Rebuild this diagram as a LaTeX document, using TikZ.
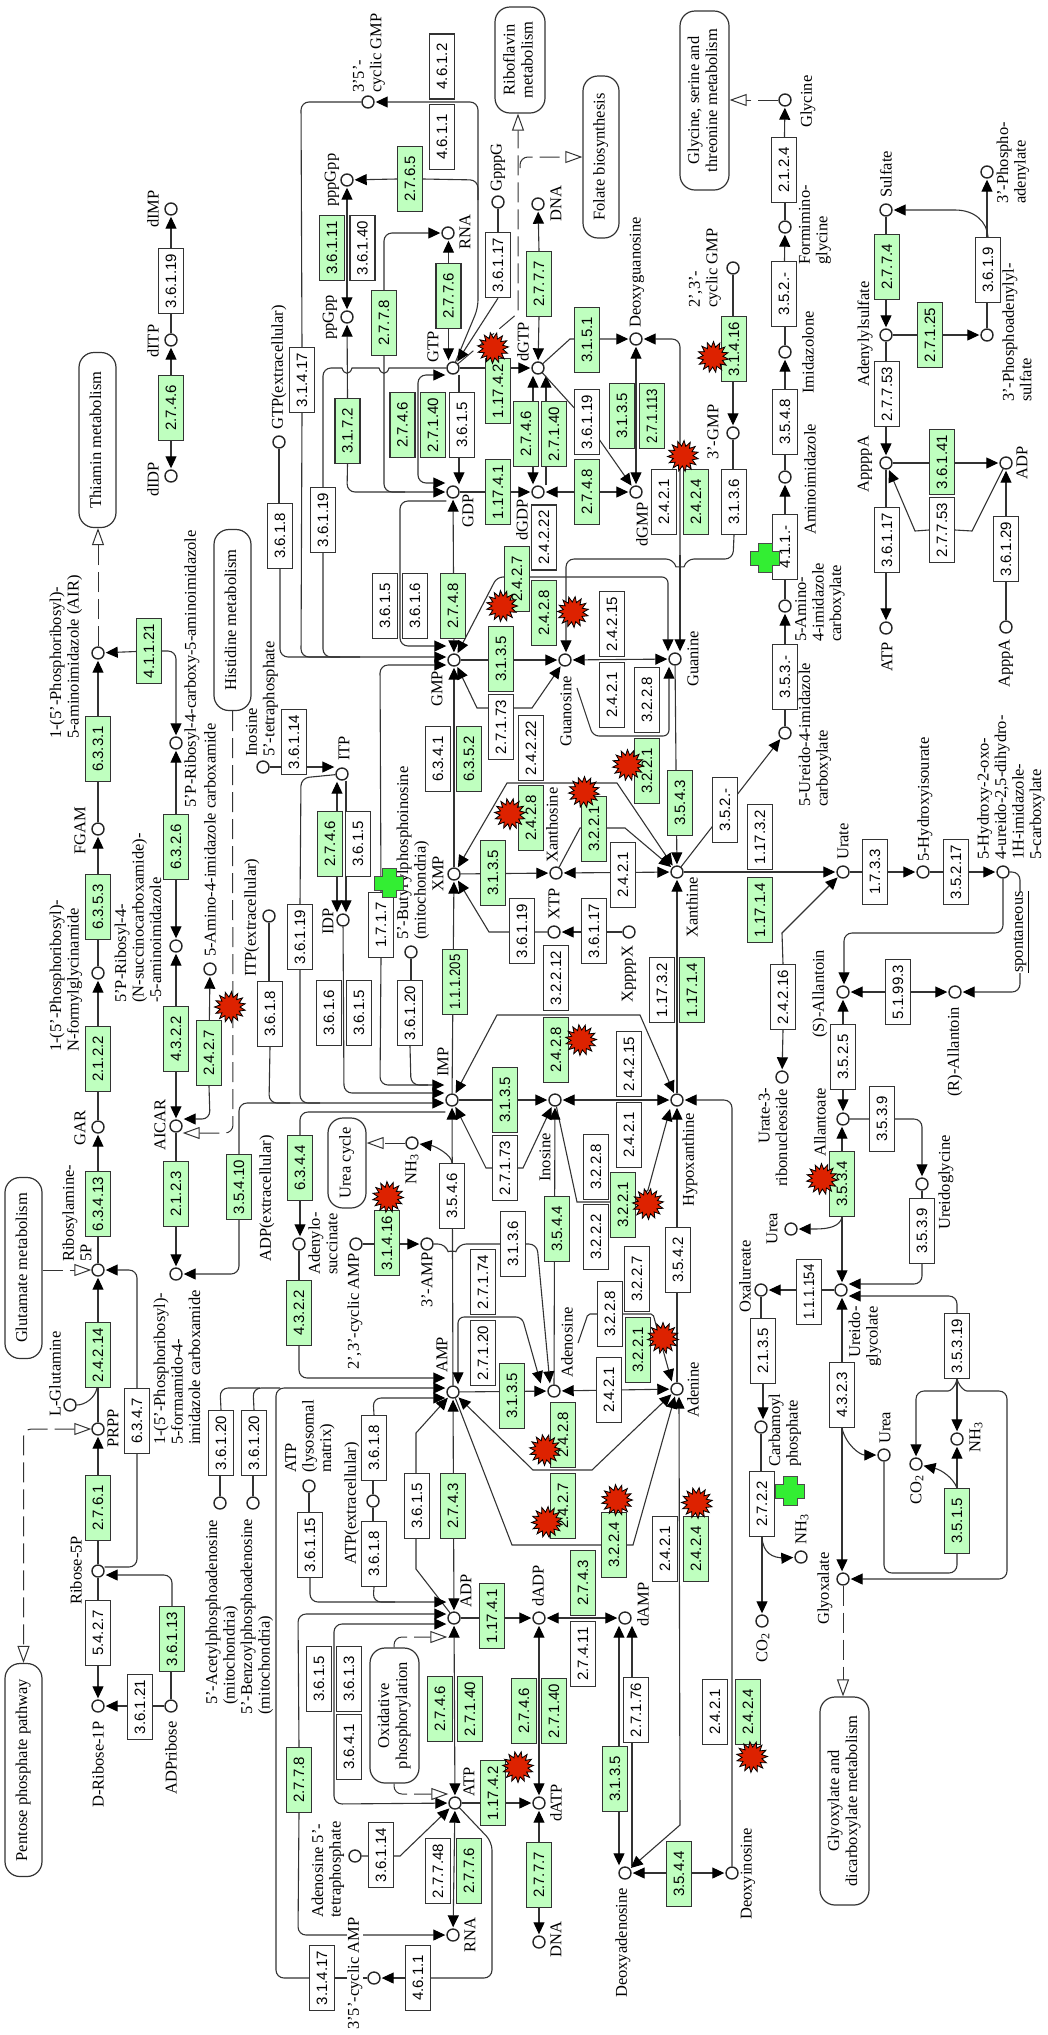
\documentclass[tikz,border=0pt]{standalone}
\usepackage{graphicx}
\usepackage{fontspec}
\setmainfont{Liberation Serif}
\newfontfamily\ecfont{Liberation Sans}
\usetikzlibrary{arrows.meta,shapes.geometric}
\pgfdeclarelayer{bg}
\pgfsetlayers{bg,main}
\definecolor{lc}{gray}{0.2}
\definecolor{ecgreen}{HTML}{BFFFBF}
\definecolor{burstred}{HTML}{DD2200}
\definecolor{crossgreen}{HTML}{33EE33}
\tikzset{
  ecw/.style={draw=lc,line width=1.3pt,fill=white,minimum width=25pt,minimum height=65pt,inner sep=0pt,font=\ecfont\fontsize{15}{15}\selectfont},
  ecg/.style={ecw,fill=ecgreen},
  cpd/.style={circle,draw=black!85,line width=1.4pt,fill=white,minimum size=12pt,inner sep=0pt},
  lbl/.style={rotate=90,anchor=west,align=left,inner sep=0pt,font=\fontsize{16.5}{17.5}\selectfont},
  pwy/.style={draw=lc,line width=1.2pt,fill=white,rounded corners=15pt,inner sep=0pt,align=center,font=\fontsize{16.5}{18}\selectfont},
  ln/.style={line width=1.1pt,color=lc},
  ar/.style={ln,-{Triangle[length=12pt,width=11pt,color=black]},shorten >=1pt},
  ab/.style={ln,{Triangle[length=12pt,width=11pt,color=black]}-{Triangle[length=12pt,width=11pt,color=black]},shorten >=1pt,shorten <=1pt},
  dsh/.style={line width=1pt,color=lc,dash pattern=on 20pt off 7pt,-{Triangle[length=17pt,width=12pt,fill=white]}},
  dshb/.style={line width=1pt,color=lc,dash pattern=on 20pt off 7pt,{Triangle[length=17pt,width=12pt,fill=white]}-{Triangle[length=17pt,width=12pt,fill=white]}},
  rc/.style={rounded corners=8pt},
  burst/.style={star,star points=15,star point ratio=1.55,minimum size=31pt,inner sep=0pt,fill=burstred,draw=black,line width=0.8pt},
}
\newcounter{lc}\newcounter{bc}
\newcommand\wb[4]{\node[ecw] (#1) at (#2,#3) {\rotatebox{90}{#4}};}
\newcommand\gb[4]{\node[ecg] (#1) at (#2,#3) {\rotatebox{90}{#4}};}
\newcommand\cp[3]{\node[cpd] (#1) at (#2,#3) {};}
\newcommand\lab[3]{\stepcounter{lc}\node[lbl] (lab\arabic{lc}) at (#1,#2) {#3};}
\newcommand\pw[6]{\node[pwy,minimum width=#4pt,minimum height=#5pt] (#1) at (#2,#3) {\rotatebox{90}{\begin{tabular}{@{}c@{}}#6\end{tabular}}};}
\newcommand\bst[2]{\stepcounter{bc}\node[burst,shape border rotate=\arabic{bc}0] (bst\arabic{bc}) at (#1,#2) {};}
\newcommand\crs[2]{\filldraw[fill=crossgreen,draw=black!70,line width=0.8pt,shift={(#1,#2)}] (-7,-14.5)--(7,-14.5)--(7,-7)--(14.5,-7)--(14.5,7)--(7,7)--(7,14.5)--(-7,14.5)--(-7,7)--(-14.5,7)--(-14.5,-7)--(-7,-7)--cycle;}
\newcommand\ssb[1]{\raisebox{-2pt}{\fontsize{12}{12}\selectfont #1}}
\newcommand\nrw[1]{\scalebox{0.88}[1]{#1}}
\begin{document}
\begin{tikzpicture}[x=1pt,y=-1pt]
\useasboundingbox (0,0) rectangle (1047,2035);
% pathway boxes
\pw{thi}{97.5}{440}{37}{175}{Thiamin metabolism}
\pw{his}{232.5}{620}{37}{181}{Histidine metabolism}
\pw{glu}{23.5}{1268}{37}{181}{Glutamate metabolism}
\pw{pen}{23.5}{1770}{37}{213}{Pentose phosphate pathway}
\pw{rib}{520}{60}{50}{106}{Riboflavin\\metabolism}
\pw{fol}{601}{157}{36}{162}{Folate biosynthesis}
\pw{gs}{704.5}{100.5}{49}{179}{Glycine, serine and\\threonine metabolism}
\pw{urea}{347}{1163}{38}{90}{Urea cycle}
\pw{oxp}{394.5}{1715.5}{49}{135}{Oxidative\\phosphorylation}
\pw{gd}{844.5}{1801}{49}{208}{Glyoxylate and\\dicarboxylate metabolism}
% enzyme boxes
\wb{a1}{171}{281}{3.6.1.19}
\gb{a2}{171}{408}{2.7.4.6}
\wb{a3}{302}{380}{3.1.4.17}
\gb{a4}{332}{248}{3.6.1.11}
\wb{a5}{362.5}{248}{3.6.1.40}
\gb{a6}{347.5}{431}{3.1.7.2}
\wb{a7}{323}{520}{3.6.1.19}
\wb{a8}{280}{536}{3.6.1.8}
\wb{a9}{442}{137}{4.6.1.1}
\wb{a10}{442}{66.5}{4.6.1.2}
\gb{a11}{410}{179}{2.7.6.5}
\gb{a12}{384}{323}{2.7.7.8}
\gb{a13}{448.5}{296}{2.7.7.6}
\wb{a14}{498}{265}{3.6.1.17}
\gb{a15}{539}{284}{2.7.7.7}
\gb{a16}{498}{391}{1.17.4.2}
\wb{a17}{462}{425}{3.6.1.5}
\gb{a18}{402.5}{425}{2.7.4.6}
\gb{a19}{433}{425}{2.7.1.40}
\gb{a20}{587}{340}{3.1.5.1}
\wb{a21}{587}{422}{3.6.1.19}
\gb{a22}{622}{416}{3.1.3.5}
\gb{a23}{652}{416}{\nrw{2.7.1.113}}
\gb{a24}{526}{434}{2.7.4.6}
\gb{a25}{554}{434}{2.7.1.40}
\gb{a26}{498}{492}{1.17.4.1}
\gb{a27}{587}{492}{2.7.4.8}
\gb{a28}{453}{606}{2.7.4.8}
\wb{a29}{385}{606}{3.6.1.5}
\wb{a30}{415}{606}{3.6.1.6}
\gb{a31}{501}{659}{3.1.3.5}
\wb{a32}{612}{624}{2.4.2.15}
\wb{a33}{612}{695}{2.4.2.1}
\wb{a34}{647}{700}{3.2.2.8}
\wb{a35}{501}{727}{2.7.1.73}
\wb{a36}{531}{748}{2.4.2.22}
\wb{a37}{438}{759}{6.3.4.1}
\gb{a38}{469}{759}{6.3.5.2}
\gb{a39}{493}{873}{3.1.3.5}
\gb{a40}{531}{818}{2.4.2.8}
\gb{a41}{647}{771}{3.2.2.1}
\gb{a42}{594}{829}{3.2.2.1}
\wb{a43}{623}{875}{2.4.2.1}
\gb{a44}{680}{803}{3.5.4.3}
\wb{a45}{522}{931}{3.6.1.19}
\wb{a46}{594}{931}{3.6.1.17}
\wb{a47}{556}{978}{3.2.2.12}
\wb{a48}{662}{990}{1.17.3.2}
\gb{a49}{692}{990}{1.17.1.4}
\gb{a50}{455}{982}{\nrw{1.1.1.205}}
\wb{a51}{410}{1013}{3.6.1.20}
\wb{a52}{381}{925}{1.7.1.7}
\wb{a53}{358}{844}{3.6.1.5}
\wb{a54}{359}{1013}{3.6.1.5}
\wb{a55}{300}{937}{3.6.1.19}
\wb{a56}{329}{1013}{3.6.1.6}
\wb{a57}{270}{1014}{3.6.1.8}
\wb{a58}{294}{742}{3.6.1.14}
\gb{a59}{330}{844}{2.7.4.6}
\gb{b1}{149}{651}{4.1.1.21}
\gb{b2}{98}{749}{6.3.3.1}
\gb{b3}{98}{907}{6.3.5.3}
\gb{b4}{98}{1059}{2.1.2.2}
\gb{b5}{176}{847}{6.3.2.6}
\gb{b6}{176}{1039}{4.3.2.2}
\gb{b7}{209}{1053}{2.4.2.7}
\gb{b8}{239}{1187}{3.5.4.10}
\gb{b9}{176}{1194}{2.1.2.3}
\gb{b10}{300}{1168}{6.3.4.4}
\gb{b11}{299}{1313}{4.3.2.2}
\gb{b12}{505}{1100}{3.1.3.5}
\wb{b13}{505}{1168}{2.7.1.73}
\gb{b14}{556}{1050}{2.4.2.8}
\wb{b15}{629}{1064}{2.4.2.15}
\wb{b16}{629}{1135}{2.4.2.1}
\wb{b17}{596}{1167}{3.2.2.8}
\wb{b18}{596}{1237}{3.2.2.2}
\gb{b19}{623}{1205}{3.2.2.1}
\gb{b20}{557}{1229}{3.5.4.4}
\wb{b21}{678}{1260}{3.5.4.2}
\gb{b22}{387}{1243}{3.1.4.16}
\wb{b23}{513}{1244}{3.1.3.6}
\wb{b24}{452}{1196}{3.5.4.6}
\wb{b25}{483}{1282}{2.7.1.74}
\wb{b26}{483}{1353}{2.7.1.20}
\gb{b27}{512}{1396}{3.1.3.5}
\wb{b28}{609}{1390}{2.4.2.1}
\wb{b29}{610}{1314}{3.2.2.8}
\wb{b30}{637}{1279}{3.2.2.7}
\gb{b31}{638}{1350}{3.2.2.1}
\gb{b32}{563}{1435}{2.4.2.8}
\gb{b33}{563}{1506}{2.4.2.7}
\gb{b34}{614}{1545}{3.2.2.4}
\wb{b35}{665}{1549}{2.4.2.1}
\gb{b36}{696}{1549}{2.4.2.4}
\gb{b37}{453}{1506}{2.7.4.3}
\wb{b38}{417}{1506}{3.6.1.5}
\wb{b39}{374}{1448}{3.6.1.8}
\wb{b40}{374}{1554}{3.6.1.8}
\wb{b41}{310}{1545}{3.6.1.15}
\wb{b42}{221}{1443}{3.6.1.20}
\wb{b43}{254}{1443}{3.6.1.20}
\gb{b44}{98}{1204}{6.3.4.13}
\gb{b45}{98}{1355}{2.4.2.14}
\wb{b46}{137}{1421}{6.3.4.7}
\gb{b47}{98}{1508}{2.7.6.1}
\wb{b48}{98}{1633}{5.4.2.7}
\gb{b49}{172}{1639}{3.6.1.13}
\wb{b50}{140}{1707}{3.6.1.21}
\gb{b51}{299}{1780}{2.7.7.8}
\wb{b52}{319}{1679}{3.6.1.5}
\wb{b53}{349}{1679}{3.6.1.3}
\wb{b54}{349}{1747}{3.6.4.1}
\gb{b55}{440}{1709}{2.7.4.6}
\gb{b56}{470}{1709}{2.7.1.40}
\gb{b57}{492}{1616}{1.17.4.1}
\gb{b58}{583}{1583}{2.7.4.3}
\wb{b59}{583}{1654}{2.7.4.11}
\gb{b60}{493}{1793}{1.17.4.2}
\gb{b61}{524}{1711}{2.7.4.6}
\gb{b62}{554}{1711}{2.7.1.40}
\gb{b63}{539}{1875}{2.7.7.7}
\gb{b64}{615}{1779}{3.1.3.5}
\wb{b65}{636}{1710}{2.7.1.76}
\wb{b66}{381}{1855}{3.6.1.14}
\wb{b67}{438}{1871}{2.7.7.48}
\gb{b68}{469}{1871}{2.7.7.6}
\wb{b69}{418}{1978}{4.6.1.1}
\wb{b70}{322}{1978}{3.1.4.17}
\gb{b71}{679}{1874}{3.5.4.4}
\wb{b72}{715}{1712}{2.4.2.1}
\gb{b73}{748}{1712}{2.4.2.4}
\wb{c1}{784}{170}{2.1.2.4}
\wb{c2}{784}{294}{3.5.2.-}
\wb{c3}{785}{422}{3.5.4.8}
\wb{c4}{785}{547}{4.1.1.-}
\wb{c5}{785}{677}{3.5.3.-}
\wb{c6}{725}{810}{3.5.2.-}
\gb{c7}{734}{349}{3.1.4.16}
\wb{c8}{734}{502}{3.1.3.6}
\gb{c9}{887}{267}{2.7.7.4}
\gb{c10}{930}{335}{2.7.1.25}
\wb{c11}{988}{270}{3.6.1.9}
\wb{c12}{887}{394}{2.7.7.53}
\gb{c13}{942}{462}{3.6.1.41}
\wb{c14}{887}{540}{3.6.1.17}
\wb{c15}{942}{530}{2.7.7.53}
\wb{c16}{1006}{549}{3.6.1.29}
\wb{c17}{760}{837}{1.17.3.2}
\gb{c18}{760}{910}{1.17.1.4}
\wb{c19}{783}{997}{2.4.2.16}
\wb{c20}{875}{872}{1.7.3.3}
\wb{c21}{956}{872}{3.5.2.17}
\wb{c22}{898}{992}{5.1.99.3}
\wb{c23}{843}{1057}{3.5.2.5}
\wb{c24}{882}{1119}{3.5.3.9}
\gb{c25}{842}{1184}{3.5.3.4}
\wb{c26}{922}{1231}{3.5.3.9}
\wb{c27}{809}{1292}{\nrw{1.1.1.154}}
\wb{c28}{763}{1351}{2.1.3.5}
\wb{c29}{957}{1346}{3.5.3.19}
\wb{c30}{842}{1395}{4.3.2.3}
\wb{c31}{762}{1504}{2.7.2.2}
\gb{c32}{957}{1521}{3.5.1.5}
\wb{d1}{664}{502}{2.4.2.1}
\gb{d2}{696}{502}{2.4.2.4}
\gb{d3}{517}{579}{2.4.2.7}
\gb{d4}{544}{613}{2.4.2.8}
\wb{d5}{544}{537.5}{2.4.2.22}
% compounds
\cp{dIMP}{171}{209}\cp{dITP}{171}{340}\cp{dIDP}{171}{476}\cp{GTPx}{279}{442}
\cp{pppGpp}{347}{180}\cp{ppGpp}{347}{317}\cp{cGMPa}{368}{102}\cp{RNAg}{448}{233}
\cp{GpppG}{498}{202}\cp{DNAg}{538}{204}\cp{GTP}{453}{368}\cp{dGTP}{538}{368}
\cp{dG}{636}{339}\cp{GDP}{453}{492}\cp{dGDP}{538}{492}\cp{dGMP}{636}{492}
\cp{GMP}{454}{660}\cp{Guo}{565}{660}\cp{Gua}{675}{659}\cp{XMP}{454}{874}
\cp{Xao}{556}{873}\cp{Xan}{677}{872}\cp{XTP}{554}{932}\cp{XppppX}{629}{932}
\cp{IMP}{452}{1100}\cp{Ino}{555}{1100}\cp{Hyp}{677}{1100}\cp{AIR}{98}{653}
\cp{CAIR}{176}{743}\cp{FGAM}{98}{829}\cp{FGAR}{98}{973}\cp{SAICAR}{176}{946}
\cp{AICARb}{210}{969}\cp{AICAR}{176}{1126}\cp{GAR}{98}{1127}\cp{Ribam}{98}{1270}
\cp{FAICAR}{176}{1274}\cp{ITPx}{269}{916}\cp{Itet}{263}{767}\cp{ITP}{342}{774}
\cp{IDP}{343}{920}\cp{BuI}{411}{952}\cp{NHu}{412}{1143}\cp{Adsu}{299}{1244}
\cp{cAMPb}{356}{1244}\cp{Athree}{427}{1244}\cp{AMP}{453}{1392}\cp{Ado}{554}{1391}
\cp{Ade}{677}{1389}\cp{LGln}{70}{1405}\cp{PRPP}{98}{1429}\cp{RfiveP}{98}{1571}
\cp{RoneP}{98}{1706}\cp{ADPr}{171}{1706}\cp{AcA}{220}{1503}\cp{BzA}{253}{1503}
\cp{ATPl}{309}{1486}\cp{ATPx}{373}{1501}\cp{ADP}{454}{1618}\cp{dADP}{539}{1618}
\cp{dAMP}{625}{1618}\cp{ATP}{455}{1803}\cp{dATP}{539}{1803}\cp{Atet}{355}{1856}
\cp{RNAa}{453}{1935}\cp{DNAa}{539}{1942}\cp{cAMPa}{374}{1978}\cp{dAdo}{625}{1873}
\cp{dIno}{732}{1873}\cp{Gly}{785}{100}\cp{Fgly}{785}{227}\cp{Imz}{785}{352}
\cp{Aiz}{785}{477}\cp{Aic}{785}{606}\cp{Uic}{785}{733}\cp{cGMPb}{733}{268}
\cp{Gthree}{733}{433}\cp{Sulf}{886}{210}\cp{APS}{886}{335}\cp{PAPS}{987}{335}
\cp{PAP}{987}{172}\cp{Apfour}{886}{463}\cp{ADPs}{1006}{463}\cp{ATPs}{886}{628}
\cp{Apthree}{1006}{627}\cp{Urate}{843}{872}\cp{HIU}{923}{872}\cp{OHCU}{1003}{872}
\cp{SAll}{843}{992}\cp{RAll}{955}{992}\cp{Urib}{782}{1077}\cp{Allt}{843}{1119}
\cp{Ugly}{922}{1184}\cp{Ura}{791}{1229}\cp{Uglc}{841}{1290}\cp{Oxa}{761}{1290}
\cp{Cpo}{761}{1427}\cp{Urb}{884}{1455}\cp{NHb}{957}{1439}\cp{COb}{916}{1464}
\cp{NHc}{801}{1557}\cp{COc}{762}{1621}\cp{Glx}{843}{1579}
% labels
\lab{153}{228}{dIMP}\lab{153}{358}{dITP}\lab{153}{497}{dIDP}
\lab{279}{430}{GTP(extracellular)}\lab{332}{207}{pppGpp}\lab{330}{340}{ppGpp}
\lab{369}{93}{3'5'-\\cyclic GMP}\lab{465}{250}{RNA}\lab{498}{192}{GpppG}\lab{556}{222}{DNA}
\lab{433}{363}{GTP}\lab{523}{362}{dGTP}\lab{637}{328}{Deoxyguanosine}\lab{468}{528}{GDP}
\lab{522}{541}{dGDP}\lab{642}{547}{dGMP}\lab{437}{707}{GMP}\lab{566}{747}{Guanosine}
\lab{693}{687}{Guanine}\lab{438}{892}{XMP}\lab{552}{863}{Xanthosine}\lab{692}{938}{Xanthine}
\lab{554}{920}{XTP}\lab{629}{1003}{XppppX}\lab{413}{940}{5'-Butyrylphosphoinosine\\(mitochondria)}
\lab{443}{1077}{IMP}\lab{545}{1182}{Inosine}\lab{690}{1207}{Hypoxanthine}\lab{412}{1185}{NH\ssb{3}}
\lab{323}{1275}{Adenylo-\\succinate}\lab{355}{1370}{2',3'-cyclic AMP}\lab{427}{1308}{3'-AMP}
\lab{442}{1373}{AMP}\lab{567}{1378}{Adenosine}\lab{693}{1418}{Adenine}
\lab{267}{1262}{ADP(extracellular)}\lab{252}{977}{ITP(extracellular)}
\lab{262}{757}{Inosine\\5'-tetraphosphate}\lab{344}{761}{ITP}\lab{328}{935}{IDP}
\lab{76}{1605}{Ribose-5P}\lab{98}{1808}{D-Ribose-1P}\lab{171}{1795}{ADPribose}\lab{113}{1448}{PRPP}
\lab{55}{1417}{L-Glutamine}\lab{77}{1262}{Ribosylamine-\\5P}\lab{80}{1146}{GAR}
\lab{66}{1052}{1-(5'-Phosphoribosyl)-\\N-formylglycinamide}\lab{80}{855}{FGAM}
\lab{66}{739}{1-(5'-Phosphoribosyl)-\\5-aminoimidazole (AIR)}
\lab{192}{808}{5'P-Ribosyl-4-carboxy-5-aminoimidazole}
\lab{138}{1003}{5'P-Ribosyl-4-\\(N-succinocarboxamide)-\\-5-aminoimidazole}
\lab{210}{957}{5-Amino-4-imidazole carboxamide}\lab{160}{1151}{AICAR}
\lab{177}{1445}{1-(5'-Phosphoribosyl)-\\5-formamido-4-\\imidazole carboxamide}
\lab{352}{1565}{ATP(extracellular)}\lab{310}{1473}{ATP\\(lysosomal\\matrix)}
\lab{222}{1705}{5'-Acetylphosphoadenosine\\(mitochondria)}
\lab{257}{1715}{5'-Benzoylphosphoadenosine\\(mitochondria)}
\lab{328}{1918}{Adenosine 5'-\\tetraphosphate}
\node[lbl,fill=white] (labcamp) at (355,2030) {3'5'-cyclic AMP};
\lab{466}{1608}{ADP}\lab{538}{1607}{dADP}\lab{643}{1627}{dAMP}\lab{469}{1797}{ATP}\lab{556}{1822}{dATP}
\lab{470}{1953}{RNA}\lab{556}{1958}{DNA}\lab{623}{1998}{Deoxyadenosine}\lab{748}{1920}{Deoxyinosine}
\lab{808}{128}{Glycine}\lab{815}{265}{Formimino-\\glycine}\lab{808}{394}{Imidazolone}\lab{810}{535}{Aminoimidazole}
\lab{820}{642}{5-Amino-\\4-imidazole\\carboxylate}\lab{815}{807}{5-Ureido-4-imidazole\\carboxylate}
\lab{705}{308}{2',3'-\\cyclic GMP}\lab{713}{460}{3'-GMP}\lab{886}{198}{Sulfate}\lab{865}{387}{Adenylylsulfate}
\lab{1013}{204}{3'-Phospho-\\adenylate}\lab{1017}{402}{3'-Phosphoadenylyl-\\sulfate}\lab{865}{493}{AppppA}
\lab{1022}{480}{ADP}\lab{887}{672}{ATP}\lab{1006}{688}{ApppA}\lab{843}{860}{Urate}\lab{925}{862}{5-Hydroxyisourate}
\lab{1011}{860}{5-Hydroxy-2-oxo-\\4-ureido-2,5-dihydro-\\1H-imidazole-\\5-carboxylate}
\lab{820}{1038}{(S)-Allantoin}\lab{955}{1097}{(R)-Allantoin}\lab{773}{1187}{\hspace*{43pt}Urate-3-\\ribonucleoside}
\lab{820}{1157}{Allantoate}\lab{946}{1230}{Ureidoglycine}\lab{772}{1245}{Urea}
\lab{865}{1367}{\hspace*{9pt}Ureido-\\glycolate}\lab{745}{1313}{Oxalureate}\lab{785}{1467}{Carbamoyl\\phosphate}
\lab{802}{1545}{NH\ssb{3}}\lab{763}{1663}{CO\ssb{2}}\lab{825}{1625}{Glyoxalate}\lab{885}{1444}{Urea}
\lab{976}{1453}{NH\ssb{3}}\lab{917}{1505}{CO\ssb{2}}
\node[lbl,fill=white] (labsp) at (1021,973) {\underline{spontaneous}};
\begin{pgfonlayer}{bg}
% left column
\draw[ln] (dITP)--(a1); \draw[ar] (a1)--(dIMP); \draw[ar] (a2)--(dITP); \draw[ar] (a2)--(dIDP);
\draw[ln] (GTPx)--(GTPx |- a8.north);
\draw[ar,rc] (a8.south)--(280,657)--(0,657 -| GMP.west);
\draw[ln,rc] (a3.north)--(301,102)--(cGMPa);
\draw[ln,rc] (a3.south)--(301,657)--(340,657);
\draw[ln,rc] (a7.south)--(323,657)--(360,657);
\draw[ln,rc] (a7.north)--(323,368)--(340,368);
\draw[ln] (340,368)--(342,368) .. controls (344,375) and (350,375) .. (352,368)--(379,368) .. controls (381,375) and (387,375) .. (389,368)--(GTP);
\draw[ar,rc] (GTP)--(478,308)--(478,102)--(cGMPa);
\draw[ln,rc] (478,200)--(478,180)--(a11.east);
\draw[ar] (a11.west)--(pppGpp);
\draw[ab] (ppGpp)--(pppGpp);
\draw[ar] (a6.north)--(ppGpp);
\draw[ar,rc] (a6.south)--(347,492)--(GDP);
\draw[ln,rc] (a12.south)--(384,492)--(405,492);
\draw[ar,rc] (a12.north)--(384,233)--(RNAg);
\draw[ar] (a13.north)--(a13.north |- RNAg.south);
\draw[ar] (a13.south)--(a13.south |- GTP.north);
\draw[ln] (GpppG)--(a14.north); \draw[ar] (a14.south)--(GTP);
\draw[dsh] (GTP)--(518,313)--(518,0 |- rib.south);
\draw[dsh,rc] (520,168)--(520,157)--(fol.west);
\draw[ar] (a15.north)--(DNAg); \draw[ar] (a15.south)--(dGTP);
\draw[ar] (GTP)--(dGTP);
\draw[ar] (459,0 |- GTP.south)--(459,0 |- GDP.north);
\draw[ab,rc] (0,375 -| GTP.west)--(418,375)--(418,483)--(0,483 -| GDP.west);
\draw[ar] (GDP)--(dGDP);
\draw[ab] (533,0 |- dGTP.south)--(533,0 |- dGDP.north);
\draw[ar] (546,0 |- dGDP.north)--(546,0 |- dGTP.south);
\draw[ar] (dGTP)--(570,339)--(dG);
\draw[ar] (dGTP)--(a21.center)--(dGMP);
\draw[ab] (dG)--(dGMP);
\draw[ab] (dGDP)--(dGMP);
\draw[ar,rc] (680,555)--(680,339)--(dG);
\draw[ar] (680,555)--(680,0 |- Gua.north);
\draw[ar,rc] (c8.south)--(733,559)--(686,559) .. controls (684,567) and (676,567) .. (674,559)--(566,559)--(566,0 |- Guo.north);
\draw[ab,rounded corners=6pt] (GMP)--(497,577)--(668,577)--(668,0 |- Gua.north);
\draw[ab] (GDP)--(GMP);
\draw[ar,rc] (0,501 -| GDP.west)--(400,501)--(400,646)--(0,646 -| GMP.west);
\draw[ar,rc] (a52.north)--(380,665)--(0,665 -| GMP.west);
\draw[ar] (GMP)--(Guo); \draw[ab] (Guo)--(Gua);
\draw[ab] (GMP)--(477,708)--(532,708)--(Guo);
\draw[ar] (XMP)--(GMP);
\draw[ar,rounded corners=6pt] (577,688)--(593,736)--(669,736)--(669,0 |- Gua.south);
\draw[ar] (Gua)--(Xan);
\draw[ar] (XMP)--(Xao); \draw[ab] (Xao)--(Xan);
\draw[ab] (XMP)--(507,783)--(617,783)--(Xan);
\draw[ar] (Xao)--(580,828)--(625,828)--(Xan);
\draw[ar] (XTP)--(489,932)--(XMP);
\draw[ar] (XppppX)--(XTP);
\draw[ar] (Hyp)--(Xan);
\draw[ar] (IMP)--(XMP);
\draw[ln] (BuI)--(BuI |- a51.north);
\draw[ar,rc] (a52.south)--(380,1085)--(0,1085 -| IMP.west);
\draw[ln,rc] (a51.south)--(411,1085)--(428,1085);
\draw[ar] (Itet)--(0,767 -| ITP.west);
\draw[ab] (337,0 |- ITP.south)--(337,0 |- IDP.north);
\draw[ar] (346,0 |- ITP.south)--(346,0 |- IDP.north);
\draw[ln,rc] (a55.north)--(301,778)--(ITP);
\draw[ln,rc] (a55.south)--(300,1103)--(320,1103);
\draw[ln] (ITPx)--(ITPx |- a57.north);
\draw[ln,rc] (a57.south)--(269,1103)--(290,1103);
\draw[ar,rc] (IDP)--(344,1093)--(0,1093 -| IMP.west);
\draw[ar,rc] (b8.north)--(239,1103)--(0,1103 -| IMP.west);
\draw[ar,rc] (b8.south)--(239,1274)--(FAICAR);
\draw[ln,rc] (b10.north)--(300,1112)--(0,1112 -| IMP.west);
\draw[ar] (b10.south)--(b10.south |- Adsu.north);
\draw[ln] (Adsu)--(b11.north);
\draw[ar,rc] (b11.south)--(299,1378)--(0,1378 -| AMP.west);
\draw[ar] (IMP)--(Ino); \draw[ab] (Ino)--(Hyp);
\draw[ab] (IMP)--(497,1015)--(640,1015)--(Hyp);
\draw[ab] (IMP)--(486,1168)--(523,1168)--(Ino);
\draw[ar] (Ino)--(577,1202)--(636,1202)--(648,1190)--(0,1108 -| Hyp.west);
\draw[ar] (Ado)--(Ino); \draw[ar] (Ade)--(Hyp);
\draw[ar,rc] (dIno)--(732,1100)--(Hyp);
\draw[ar] (AMP)--(IMP);
\draw[ar] (b24.north) .. controls (452,1155) and (435,1146) .. (NHu);
\draw[dsh] (NHu)--(urea.east |- NHu);
\draw[ar] (cAMPb)--(Athree);
\draw[ar,rc] (Athree)--(446,1244) .. controls (448,1251) and (456,1251) .. (458,1244)--(537,1244)--(550,0 |- Ado.north);
\draw[ab,rounded corners=6pt] (458,0 |- AMP.north)--(458,1317)--(522,1317)--(541,0 |- Ado.north);
\draw[ar] (AMP)--(Ado); \draw[ab] (Ado)--(Ade);
\draw[ar,rounded corners=2pt] (578,1343)--(588,1314)--(653,1314)--(672,0 |- Ade.north);
\draw[ab] (AMP)--(533,1470)--(592,1470)--(Ade);
\draw[ar] (AMP)--(512,1545)--(633,1545)--(Ade);
\draw[ab] (ADP)--(AMP);
\draw[ar] (ADP)--(416,1569)--(416,1433)--(AMP);
\draw[ar,rc] (b39.north)--(373,1398)--(0,1398 -| AMP.west);
\draw[ln] (ATPx)--(ATPx |- b39.south); \draw[ln] (ATPx)--(ATPx |- b40.north);
\draw[ar,rc] (b41.south)--(310,1602)--(0,1602 -| ADP.west);
\draw[ln,rc] (b40.south)--(373,1602)--(395,1602);
\draw[ln] (ATPl)--(ATPl |- b41.north);
\draw[ln] (AcA)--(AcA |- b42.south); \draw[ln] (BzA)--(BzA |- b43.south);
\draw[ln,rc] (b42.north)--(220,1388)--(260,1388);
\draw[ln,rc] (b43.north)--(253,1388)--(280,1388);
\draw[ar,rc] (b70.west)--(276,1978)--(276,1388)--(0,1388 -| AMP.west);
\draw[ln] (b70.east)--(cAMPa);
\draw[ar] (b69.west)--(cAMPa);
\draw[ln,rc] (ATP)--(492,1842)--(492,1978)--(b69.east);
\draw[ar] (Atet)--(400,1856)--(ATP);
\draw[ab] (ATP)--(RNAa);
\draw[ar,rc] (b51.north)--(298,1614)--(0,1614 -| ADP.west);
\draw[ar,rc] (b51.south)--(298,1935)--(RNAa);
\draw[ab,rc] (0,1624 -| ADP.west)--(334,1624)--(334,1804)--(ATP);
\draw[dsh,rc] (394,0 |- oxp.north)--(394,1637)--(0,1637 -| ADP.west);
\draw[dsh,rc] (394,0 |- oxp.south)--(394,1794)--(0,1794 -| ATP.west);
\draw[ar] (ADP)--(dADP); \draw[ab] (dADP)--(dAMP); \draw[ab] (ADP)--(ATP);
\draw[ar] (ATP)--(dATP); \draw[ab] (dADP)--(dATP);
\draw[ar] (b63.north)--(dATP); \draw[ar] (b63.south)--(DNAa);
\draw[ab] (619,0 |- dAMP.south)--(619,0 |- dAdo.north);
\draw[ar] (632,0 |- dAdo.north)--(632,0 |- dAMP.south);
\draw[ab] (679,0 |- Ade.south)--(680,1825)--(dAdo);
\draw[ab] (dAdo)--(dIno);
% far left
\draw[ar] (b1)--(AIR);
\draw[ar,rc] (b1.east)--(176,651)--(CAIR);
\draw[ar] (b2)--(AIR); \draw[ln] (FGAM)--(b2); \draw[ar] (b3)--(FGAM); \draw[ln] (FGAR)--(b3);
\draw[ar] (b4)--(FGAR); \draw[ln] (GAR)--(b4); \draw[ar] (b44)--(GAR); \draw[ln] (Ribam)--(b44);
\draw[ar] (b45)--(Ribam); \draw[ln] (PRPP)--(b45); \draw[ar] (b47)--(PRPP); \draw[ln] (RfiveP)--(b47);
\draw[ab] (CAIR)--(SAICAR); \draw[ar] (b6)--(SAICAR); \draw[ar] (b6)--(AICAR);
\draw[ar] (AICAR)--(FAICAR);
\draw[ar] (b7)--(AICARb);
\draw[ar,rc] (b7.south)--(210,1119)--(0,1119 -| AICAR.east);
\draw[dsh,rc] (his.south)--(233,1133)--(0,1133 -| AICAR.east);
\draw[dsh] (AIR)--(AIR |- thi.south);
\draw[dsh] (glu.east |- Ribam)--(Ribam);
\draw[dshb,rc] (PRPP)--(23.5,1429)--(pen.north);
\draw[ln] (LGln) .. controls (85,1405) and (95,1398) .. (97,1388);
\draw[ar,rc] (b46.north)--(137,1270)--(Ribam);
\draw[ln,rc] (b46.south)--(137,1567)--(0,1567 -| RfiveP.east);
\draw[ar,rc] (b49.north)--(172,1575)--(0,1575 -| RfiveP.east);
\draw[ln] (ADPr)--(ADPr |- b49.south);
\draw[ln] (RfiveP)--(b48); \draw[ar] (b48)--(RoneP); \draw[ar] (ADPr)--(RoneP);
% right
\draw[ar] (c1)--(Gly); \draw[ln] (Fgly)--(Fgly |- c1.south); \draw[ar] (c2)--(Fgly); \draw[ln] (Imz)--(Imz |- c2.south);
\draw[ar] (c3)--(Imz); \draw[ln] (Aiz)--(c3); \draw[ar] (c4)--(Aiz); \draw[ln] (Aic)--(c4);
\draw[ar] (c5)--(Aic); \draw[ln] (Uic)--(c5);
\draw[dsh] (Gly)--(gs.east |- Gly);
\draw[ar] (Xan)--(Uic);
\draw[ar] (cGMPb)--(Gthree); \draw[ln] (Gthree)--(Gthree |- c8.north);
\draw[ar] (Sulf)--(APS); \draw[ar] (APS)--(Apfour); \draw[ar] (APS)--(PAPS); \draw[ar] (PAPS)--(PAP);
\draw[ar] (c11.north) .. controls (987,222) and (975,210) .. (955,210)--(Sulf);
\draw[ar] (Apfour)--(ADPs); \draw[ar] (Apfour)--(ATPs);
\draw[ar] (c15.west)--(915,531)--(Apfour);
\draw[ln] (c15.east)--(972,531)--(ADPs);
\draw[ar] (Apthree)--(ADPs);
\draw[ar] (Xan)--(Urate);
\draw[ar] (c19.north)--(782,933)--(Urate);
\draw[ar] (c19.south)--(Urib);
\draw[ar] (Urate)--(HIU); \draw[ar] (HIU)--(OHCU);
\draw[ar,rc] (OHCU.south)--(1003,933)--(844,933)--(844,0 |- SAll.north);
\draw[ar,rc] (OHCU)--(1020,872)--(1020,992)--(RAll);
\draw[ab] (SAll)--(RAll); \draw[ab] (SAll)--(Allt);
\draw[ar] (c25.north)--(c25.north |- Allt.south);
\draw[ar] (c25.south)--(c25.south |- Uglc.north);
\draw[ar,rc] (Allt)--(922,1119)--(Ugly);
\draw[ln] (Ugly)--(Ugly |- c26.north);
\draw[ar,rc] (c26.south)--(922,1284)--(0,1284 -| Uglc.east);
\draw[ar] (c25.south) .. controls (840,1226) and (830,1229) .. (815,1229)--(Ura);
\draw[ar] (Uglc)--(Oxa);
\draw[ln] (Oxa)--(Oxa |- c28.north);
\draw[ar] (c28.south)--(c28.south |- Cpo.north);
\draw[ln] (Cpo)--(Cpo |- c31.north);
\draw[ar] (c31.south)--(c31.south |- COc.north);
\draw[ar] (c31.south) .. controls (763,1553) and (772,1558) .. (785,1558)--(NHc);
\draw[ar] (c30.north)--(c30.north |- Uglc.south);
\draw[ar] (c30.south)--(c30.south |- Glx.north);
\draw[ar] (c30.south) .. controls (846,1445) and (860,1455) .. (Urb);
\draw[ln,rc] (Urb)--(884,1573)--(957,1573)--(c32.south);
\draw[ar,rc] (c29.north)--(957,1296)--(0,1296 -| Uglc.east);
\draw[ar] (c29.south)--(NHb);
\draw[ar,rc] (c29.south) .. controls (955,1388) and (950,1391) .. (940,1391)--(916,1391)--(916,0 |- COb.north);
\draw[ar,rc] (c29.south) .. controls (960,1388) and (965,1391) .. (975,1391)--(1007,1391)--(1007,1579)--(Glx);
\draw[ar] (c32.north)--(NHb);
\draw[ar] (c32.north) .. controls (953,1478) and (942,1470) .. (COb);
\draw[dsh] (Glx)--(Glx |- gd.north);
\end{pgfonlayer}
% crosses and bursts on top
\crs{389}{883}\crs{765}{558}\crs{790}{1491}
\bst{493}{348}\bst{683}{456}\bst{502}{606}\bst{573}{612}\bst{628}{765}\bst{510}{814}\bst{584}{792}
\bst{581}{1040}\bst{230}{1007}\bst{388}{1197}\bst{648}{1204}\bst{663}{1338}\bst{545}{1450}\bst{547}{1522}
\bst{617}{1500}\bst{697}{1503}\bst{822}{1179}\bst{518}{1767}\bst{713}{357}\bst{752}{1757}
\end{tikzpicture}
\end{document}
